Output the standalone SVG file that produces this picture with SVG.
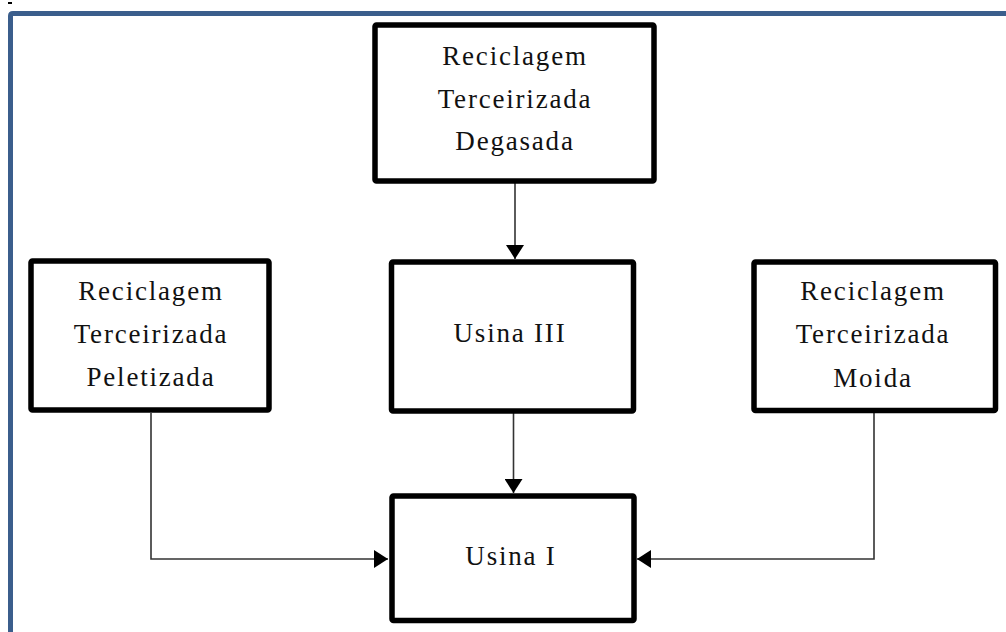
<svg xmlns="http://www.w3.org/2000/svg" width="1006" height="632" viewBox="0 0 1006 632">
<defs>
<style>
.box{fill:#ffffff;stroke:#000000;stroke-width:5.5;}
.lbl{font-family:"Liberation Serif","Times New Roman",serif;font-size:27px;letter-spacing:1.8px;fill:#111111;text-anchor:middle;}
.conn{fill:none;stroke:#333333;stroke-width:1.6;}
</style>
<marker id="arr" markerUnits="userSpaceOnUse" markerWidth="18" markerHeight="18" viewBox="0 0 14 18" refX="14" refY="9" orient="auto">
<path d="M0,0 L14,9 L0,18 Z" fill="#000000"/>
</marker>
</defs>
<rect width="1006" height="632" fill="#ffffff"/>
<rect x="8" y="2" width="4" height="2" fill="#000000"/>
<path d="M10.5,640 L10.5,16 Q10.5,13.5 13,13.5 L1010,13.5" fill="none" stroke="#3b5e8c" stroke-width="5"/>
<g id="connectors">
<line class="conn" x1="515" y1="183" x2="515" y2="259" marker-end="url(#arr)"/>
<line class="conn" x1="513.5" y1="385" x2="513.5" y2="493" stroke="#111111" marker-end="url(#arr)"/>
<polyline class="conn" points="151,413 151,559 388,559" marker-end="url(#arr)"/>
<polyline class="conn" points="874,413 874,559 637,559" stroke="#6a6a6a" stroke-width="2" marker-end="url(#arr)"/>
</g>
<g id="node-degasada">
<rect class="box" x="375" y="25" width="279" height="156" rx="1.5"/>
<text class="lbl" x="515" y="65">Reciclagem</text>
<text class="lbl" x="515" y="108">Terceirizada</text>
<text class="lbl" x="515" y="150">Degasada</text>
</g>
<g id="node-peletizada">
<rect class="box" x="31" y="261" width="238" height="149" rx="1.5"/>
<text class="lbl" x="151" y="300">Reciclagem</text>
<text class="lbl" x="151" y="343">Terceirizada</text>
<text class="lbl" x="151" y="386">Peletizada</text>
</g>
<g id="node-usina3">
<rect class="box" x="391.5" y="262" width="242" height="149" rx="1.5"/>
<text class="lbl" x="510" y="342">Usina III</text>
</g>
<g id="node-moida">
<rect class="box" x="754" y="262" width="241.5" height="148.5" rx="1.5"/>
<text class="lbl" x="873" y="300">Reciclagem</text>
<text class="lbl" x="873" y="343">Terceirizada</text>
<text class="lbl" x="873" y="387">Moida</text>
</g>
<g id="node-usina1">
<rect class="box" x="392" y="496" width="242" height="124.5" rx="1.5"/>
<text class="lbl" x="511" y="565">Usina I</text>
</g>
</svg>
